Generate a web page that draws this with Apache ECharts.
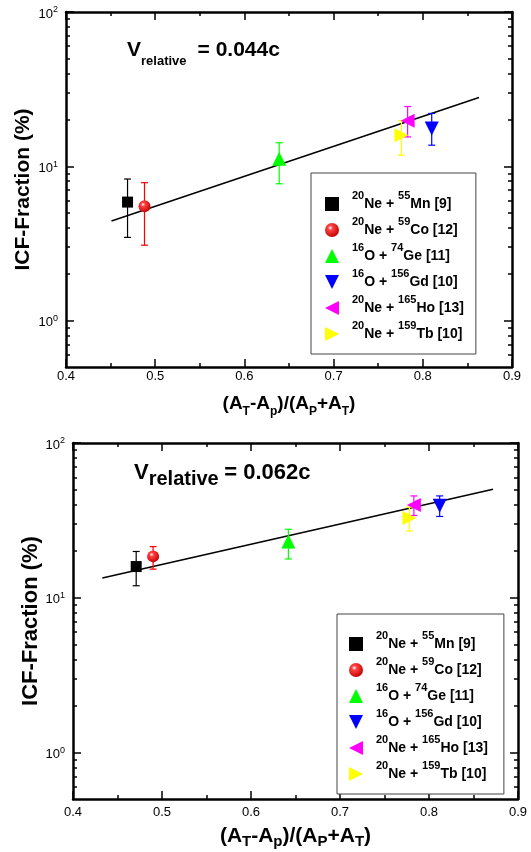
<!DOCTYPE html>
<html>
<head>
<meta charset="utf-8">
<script src="https://cdn.jsdelivr.net/npm/echarts@6/dist/echarts.min.js"></script>
<style>
  html, body { margin: 0; padding: 0; background: #fff; }
  #chart { width: 531px; height: 852px; }
</style>
</head>
<body>
<div id="chart"></div>
<script>
// reactions (legend)
const projSup = ['20', '20', '16', '16', '20', '20'];
const proj = ['Ne', 'Ne', 'O', 'O', 'Ne', 'Ne'];
const targSup = ['55', '59', '74', '156', '165', '159'];
const targ = ['Mn', 'Co', 'Ge', 'Gd', 'Ho', 'Tb'];
const refs = ['[9]', '[12]', '[11]', '[10]', '[13]', '[10]'];

// upper panel, V = 0.044c
const xTop = [0.469, 0.488, 0.639, 0.81, 0.783, 0.776];
const yTop = [5.86, 5.5, 11.2, 17.6, 19.7, 15.9];
const loTop = [3.46, 3.08, 7.7, 13.7, 15.5, 11.8];
const hiTop = [8.27, 7.83, 14.2, 22.0, 24.4, 19.8];
const fitXTop = [0.451, 0.863];
const fitYTop = [4.42, 27.9];

// lower panel, V = 0.062c
const xBot = [0.471, 0.49, 0.642, 0.812, 0.783, 0.778];
const yBot = [15.9, 18.5, 23.1, 39.3, 39.8, 32.7];
const loBot = [11.95, 15.3, 17.8, 33.5, 34.0, 27.0];
const hiBot = [19.9, 21.4, 27.7, 45.5, 45.5, 38.5];
const fitXBot = [0.433, 0.872];
const fitYBot = [13.4, 50.2];

// axis ticks
const majorY = [1, 10, 100];
const minorY = [0.6, 0.7, 0.8, 0.9, 2, 3, 4, 5, 6, 7, 8, 9, 20, 30, 40, 50, 60, 70, 80, 90];

const names = projSup.map((p, i) => p + proj[i] + ' + ' + targSup[i] + targ[i] + ' ' + refs[i]);

const FONT = '"Liberation Sans", Arial, sans-serif';
const colors = ['#000000', '#ff0000', '#00ff00', '#0000ff', '#ff00ff', '#ffff00'];
const sphere = {
    type: 'radial', x: 0.38, y: 0.35, r: 0.7,
    colorStops: [
        { offset: 0, color: '#ffffff' },
        { offset: 0.25, color: '#ff4040' },
        { offset: 1, color: '#c00000' }
    ]
};
const symbols = [
    'rect',
    'circle',
    'triangle',
    'path://M-1,-1L1,-1L0,1Z',
    'path://M1,-1L1,1L-1,0Z',
    'path://M-1,-1L-1,1L1,0Z'
];
const symbolSizes = [11, 12, 14, 14, 14, 14];

const chart = echarts.init(document.getElementById('chart'), null, { renderer: 'canvas' });

function xAxes(grid, nameText, nameStyle, nameGap, labelMargin) {
    const base = {
        type: 'value', gridIndex: grid, min: 0.4, max: 0.9, interval: 0.1,
        splitLine: { show: false },
        axisLine: { show: true, onZero: false, lineStyle: { color: '#000', width: 2.5 } },
        axisTick: { show: true, inside: true, length: 8, lineStyle: { color: '#000', width: 1.5 } },
        minorTick: { show: true, splitNumber: 2, length: 4, lineStyle: { color: '#000', width: 1.5 } }
    };
    return [
        Object.assign({}, base, {
            position: 'bottom',
            axisLabel: {
                show: true, margin: labelMargin, color: '#000', fontFamily: FONT, fontSize: 13,
                formatter: v => v.toFixed(1)
            },
            name: nameText, nameLocation: 'middle', nameGap: nameGap, nameMoveOverlap: false,
            nameTextStyle: nameStyle
        }),
        Object.assign({}, base, { position: 'top', axisLabel: { show: false } })
    ];
}

function yAxes(grid, nameGap, nameSize) {
    const base = {
        type: 'log', logBase: 10, gridIndex: grid, min: 0.5, max: 100,
        splitLine: { show: false }, minorTick: { show: false }
    };
    const majorTick = { show: true, inside: true, length: 8, customValues: majorY, lineStyle: { color: '#000', width: 1.5 } };
    const minorTick = { show: true, inside: true, length: 4, customValues: minorY, lineStyle: { color: '#000', width: 1.5 } };
    const line = { show: true, onZero: false, lineStyle: { color: '#000', width: 2.5 } };
    return [
        Object.assign({}, base, {
            position: 'left', axisLine: line, axisTick: majorTick,
            axisLabel: {
                show: true, margin: 8, customValues: majorY,
                formatter: v => '{b|10}{e|' + Math.round(Math.log10(v)) + '}',
                rich: {
                    b: { fontFamily: FONT, fontSize: 13, lineHeight: 13, color: '#000', padding: [2, 0, 0, 0], verticalAlign: 'top' },
                    e: { fontFamily: FONT, fontSize: 9, lineHeight: 9, color: '#000', verticalAlign: 'top' }
                }
            },
            name: 'ICF-Fraction (%)', nameLocation: 'middle', nameRotate: 90, nameGap: nameGap,
            nameMoveOverlap: false,
            nameTextStyle: { fontFamily: FONT, fontSize: nameSize, fontWeight: 'bold', color: '#000' }
        }),
        Object.assign({}, base, { position: 'left', axisLine: { show: false }, axisTick: minorTick, axisLabel: { show: false } }),
        Object.assign({}, base, { position: 'right', axisLine: line, axisTick: majorTick, axisLabel: { show: false } }),
        Object.assign({}, base, { position: 'right', axisLine: { show: false }, axisTick: minorTick, axisLabel: { show: false } })
    ];
}

function buildSeries(grid, xs, ys, los, his, fx, fy) {
    const xi = grid * 2;
    const yi = grid * 4;
    const out = [];
    out.push({
        type: 'line', xAxisIndex: xi, yAxisIndex: yi, symbol: 'none', silent: true, z: 1,
        lineStyle: { color: '#000', width: 1.5 },
        data: fx.map((x, i) => [x, fy[i]])
    });
    xs.forEach((x, i) => {
        out.push({
            type: 'custom', xAxisIndex: xi, yAxisIndex: yi, z: 2, silent: true,
            itemStyle: { color: colors[i] },
            encode: { x: 0, y: [1, 2] },
            data: [[x, los[i], his[i]]],
            renderItem: (params, api) => {
                const top = api.coord([api.value(0), api.value(2)]);
                const bot = api.coord([api.value(0), api.value(1)]);
                const st = { stroke: colors[i], lineWidth: 1.2 };
                const h = 3.5;
                return {
                    type: 'group',
                    children: [
                        { type: 'line', shape: { x1: top[0], y1: top[1], x2: bot[0], y2: bot[1] }, style: st },
                        { type: 'line', shape: { x1: top[0] - h, y1: top[1], x2: top[0] + h, y2: top[1] }, style: st },
                        { type: 'line', shape: { x1: bot[0] - h, y1: bot[1], x2: bot[0] + h, y2: bot[1] }, style: st }
                    ]
                };
            }
        });
        out.push({
            type: 'scatter', name: names[i], xAxisIndex: xi, yAxisIndex: yi, z: 3,
            symbol: symbols[i], symbolSize: symbolSizes[i],
            itemStyle: { color: i === 1 ? sphere : colors[i], opacity: 1 },
            data: [[x, ys[i]]]
        });
    });
    return out;
}

function legend(left, top, padding, gap) {
    return {
        data: names, orient: 'vertical', left: left, top: top, padding: padding,
        itemWidth: 14, itemHeight: 14, itemGap: gap, selectedMode: false,
        borderColor: '#444', borderWidth: 1, backgroundColor: '#fff',
        formatter: name => {
            const i = names.indexOf(name);
            return '{g|}{u|' + projSup[i] + '}{m|' + proj[i] + ' + }{u|' + targSup[i] + '}{m|' + targ[i] + ' ' + refs[i] + '}';
        },
        textStyle: {
            rich: {
                g: { width: 8 },
                u: { fontFamily: FONT, fontSize: 11, fontWeight: 'bold', color: '#000', lineHeight: 9, padding: [0, 0, 17, 0] },
                m: { fontFamily: FONT, fontSize: 14, fontWeight: 'bold', color: '#000', lineHeight: 12 }
            }
        }
    };
}

const xNameTop = {
    fontFamily: FONT, color: '#000',
    rich: {
        m: { fontFamily: FONT, fontSize: 19, fontWeight: 'bold', color: '#000', lineHeight: 19, verticalAlign: 'top' },
        s: { fontFamily: FONT, fontSize: 12, fontWeight: 'bold', color: '#000', lineHeight: 12, padding: [12, 0, 0, 0], verticalAlign: 'top' }
    }
};
const xNameBot = {
    fontFamily: FONT, color: '#000',
    rich: {
        m: { fontFamily: FONT, fontSize: 21, fontWeight: 'bold', color: '#000', lineHeight: 21, verticalAlign: 'top' },
        s: { fontFamily: FONT, fontSize: 15, fontWeight: 'bold', color: '#000', lineHeight: 15, padding: [8, 0, 0, 0], verticalAlign: 'top' }
    }
};
const xName = '{m|(A}{s|T}{m|-A}{s|p}{m|)/(A}{s|P}{m|+A}{s|T}{m|)}';

const option = {
    backgroundColor: '#fff',
    animation: false,
    title: [
        {
            text: '{v|V}{s|relative}{w|= 0.044c}', left: 127, top: 40, padding: 0,
            textStyle: {
                rich: {
                    v: { fontFamily: FONT, fontSize: 21, fontWeight: 'bold', color: '#000', lineHeight: 21, verticalAlign: 'top' },
                    w: { fontFamily: FONT, fontSize: 21, fontWeight: 'bold', color: '#000', lineHeight: 21, verticalAlign: 'top', padding: [0, 0, 0, 11] },
                    s: { fontFamily: FONT, fontSize: 13, fontWeight: 'bold', color: '#000', lineHeight: 13, padding: [15, 0, 0, 0], verticalAlign: 'top' }
                }
            }
        },
        {
            text: '{v|V}{s|relative }{v|= 0.062c}', left: 134, top: 462, padding: 0,
            textStyle: {
                rich: {
                    v: { fontFamily: FONT, fontSize: 22, fontWeight: 'bold', color: '#000', lineHeight: 22, verticalAlign: 'top' },
                    s: { fontFamily: FONT, fontSize: 20, fontWeight: 'bold', color: '#000', lineHeight: 20, padding: [7, 0, 0, 0], verticalAlign: 'top' }
                }
            }
        }
    ],
    grid: [
        { left: 66, top: 12, width: 446, height: 355 },
        { left: 73, top: 443, width: 445, height: 356 }
    ],
    xAxis: [].concat(
        xAxes(0, xName, xNameTop, 27, 3),
        xAxes(1, xName, xNameBot, 27, 7)
    ),
    yAxis: [].concat(yAxes(0, 32, 21), yAxes(1, 31, 22)),
    legend: [
        legend(311, 173, [17, 12, 6, 14], -2),
        legend(337, 614, [16, 16, 6, 12], -2)
    ],
    series: [].concat(
        buildSeries(0, xTop, yTop, loTop, hiTop, fitXTop, fitYTop),
        buildSeries(1, xBot, yBot, loBot, hiBot, fitXBot, fitYBot)
    )
};
chart.setOption(option);
</script>
</body>
</html>
